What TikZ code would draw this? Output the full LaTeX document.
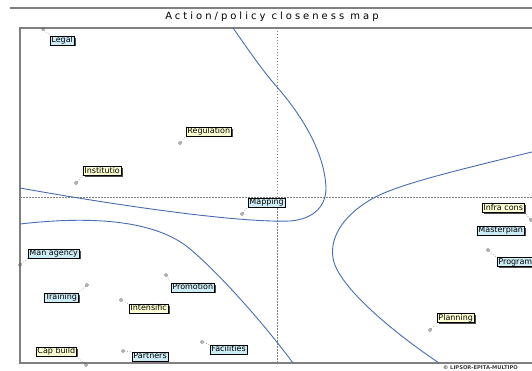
\documentclass[tikz,border=0pt]{standalone}
\usepackage{fontspec}
\setmainfont{DejaVu Sans}
\newfontfamily\titlefont[LetterSpace=30]{DejaVu Sans}
\usetikzlibrary{shadows}
\definecolor{curveblue}{RGB}{72,108,178}
\definecolor{lblblue}{RGB}{205,236,246}
\definecolor{lblyellow}{RGB}{255,255,212}
\definecolor{framegray}{RGB}{128,128,128}
\tikzset{
  lbl/.style={draw=black, line width=0.5pt, anchor=west, inner xsep=1.2pt, inner ysep=0.5pt,
    font=\fontsize{8}{9}\selectfont, text height=6pt, text depth=1.7pt,
    drop shadow={shadow xshift=1.5pt, shadow yshift=-1.5pt, fill=black!70, opacity=1}},
  lblb/.style={lbl, fill=lblblue},
  lbly/.style={lbl, fill=lblyellow},
  pt/.style={circle, draw=gray!80!black, line width=0.5pt, inner sep=0pt, minimum size=3pt},
  leader/.style={gray, dotted, line width=0.6pt},
  zone/.style={curveblue, line width=0.9pt},
  axis/.style={gray, dash pattern=on 1.5pt off 1.5pt, line width=0.5pt},
  frame/.style={framegray, line width=1.2pt},
}
\begin{document}
\begin{tikzpicture}[x=1pt, y=-1pt]
  \useasboundingbox (0,0) rectangle (532,371);
  \clip (0,0) rectangle (532,371);
  % title and frame
  \draw[frame] (10,8) -- (540,8);
  \node (title) at (272,16.5) {\titlefont\fontsize{10}{11}\selectfont Action/policy closeness map};
  \draw[frame] (540,28) -- (20,28) -- (20,363) -- (540,363);
  \node[anchor=west, inner sep=0pt, font=\bfseries\fontsize{5.2}{6}\selectfont, text=black!75] (copy) at (443,368) {© LIPSOR-EPITA-MULTIPO};
  % axes
  \draw[axis] (277,28) -- (277,363);
  \draw[axis] (20,197) -- (540,197);
  % zones
  \draw[zone] (20,188) .. controls (120,206) and (240,223) .. (290,221)
    .. controls (315,219) and (326,205) .. (326,188)
    .. controls (325,160) and (310,125) .. (277,87)
    .. controls (262,70) and (250,52) .. (233,28);
  \draw[zone] (20,224) .. controls (90,216) and (150,220) .. (185,245)
    .. controls (215,268) and (265,325) .. (293,363);
  \draw[zone] (540,150) .. controls (450,172) and (395,185) .. (370,200)
    .. controls (340,218) and (330,240) .. (333,258)
    .. controls (337,285) and (390,330) .. (439,363);
  % actions
  \node[pt] (legalp) at (43,29) {};
  \node[lblb] (legal) at (50,40.5) {Legal};
  \draw[leader] (legalp) -- (legal.north west);
  \node[pt] (regp) at (180,143) {};
  \node[lbly] (reg) at (186,131.5) {Regulation};
  \draw[leader] (regp) -- (reg.south west);
  \node[pt] (instp) at (76,183) {};
  \node[lbly] (inst) at (83,171) {Institutio};
  \draw[leader] (instp) -- (inst.south west);
  \node[pt] (mapp) at (242,214) {};
  \node[lblb] (map) at (248,202.5) {Mapping};
  \draw[leader] (mapp) -- (map.south west);
  \node[pt] (manp) at (20,265) {};
  \node[lblb] (man) at (28,253.5) {Man agency};
  \draw[leader] (manp) -- (man.south west);
  \node[pt] (trainp) at (87,285) {};
  \node[lblb] (train) at (44,297.5) {Training};
  \draw[leader] (trainp) -- (train.north east);
  \node[pt] (promp) at (166,275) {};
  \node[lblb] (prom) at (171,287.5) {Promotion};
  \draw[leader] (promp) -- (prom.north west);
  \node[pt] (intp) at (121,300) {};
  \node[lbly] (int) at (129,308.5) {Intensific};
  \draw[leader] (intp) -- (int.north west);
  \node[pt] (capp) at (86,365) {};
  \node[lbly] (cap) at (36,351.5) {Cap build};
  \draw[leader] (capp) -- (cap.south east);
  \node[pt] (partp) at (123,351) {};
  \node[lblb] (part) at (132,356.5) {Partners};
  \draw[leader] (partp) -- (part.north west);
  \node[pt] (facp) at (202,342) {};
  \node[lblb] (fac) at (210,349.5) {Facilities};
  \draw[leader] (facp) -- (fac.north west);
  \node[pt] (infrap) at (531,220) {};
  \node[lbly] (infra) at (482,208) {Infra cons};
  \draw[leader] (infrap) -- (infra.south east);
  \node[lblb] (master) at (477,230.5) {Masterplan};
  \node[pt] (progp) at (488,250) {};
  \node[lblb] (prog) at (497,262) {Program};
  \draw[leader] (progp) -- (prog.north west);
  \node[pt] (planp) at (430,330) {};
  \node[lbly] (plan) at (437,318) {Planning};
  \draw[leader] (planp) -- (plan.south west);
\end{tikzpicture}
\end{document}
